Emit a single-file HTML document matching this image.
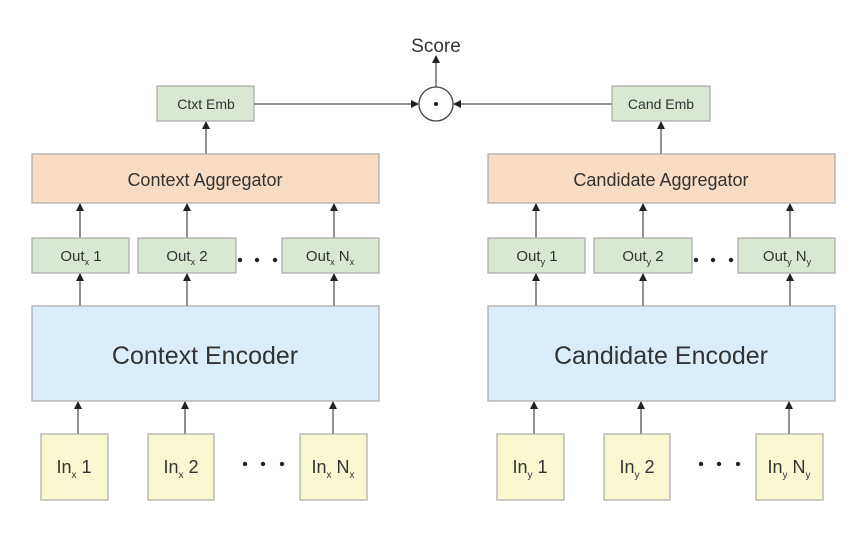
<!DOCTYPE html>
<html><head><style>body{margin:0;background:#fff}</style></head><body>
<svg width="856" height="528" xmlns="http://www.w3.org/2000/svg" font-family="Liberation Sans, sans-serif" fill="#333">
<defs><marker id="a" markerWidth="8" markerHeight="8" refX="7" refY="4" orient="auto" markerUnits="userSpaceOnUse"><path d="M0,0L8,4L0,8z" fill="#222"/></marker></defs>
<g stroke="#555" stroke-width="1.3" fill="none" marker-end="url(#a)">
<line x1="436" y1="87" x2="436" y2="56"/>
<line x1="254" y1="104" x2="418" y2="104"/>
<line x1="612" y1="104" x2="454" y2="104"/>
<line x1="206" y1="154" x2="206" y2="122"/>
<line x1="661" y1="154" x2="661" y2="122"/>
</g>
<g id="L">
<g stroke="#555" stroke-width="1.3" fill="none" marker-end="url(#a)">
<line x1="80" y1="238" x2="80" y2="204"/><line x1="187" y1="238" x2="187" y2="204"/><line x1="334" y1="238" x2="334" y2="204"/>
<line x1="80" y1="306" x2="80" y2="274"/><line x1="187" y1="306" x2="187" y2="274"/><line x1="334" y1="306" x2="334" y2="274"/>
<line x1="78" y1="434" x2="78" y2="402"/><line x1="185" y1="434" x2="185" y2="402"/><line x1="333" y1="434" x2="333" y2="402"/>
</g>
<g stroke="#aaa" stroke-width="1.2">
<rect x="32" y="154" width="347" height="49" fill="#f8dcc4"/>
<rect x="32" y="238" width="97" height="35" fill="#d8e8d2"/>
<rect x="138" y="238" width="98" height="35" fill="#d8e8d2"/>
<rect x="282" y="238" width="97" height="35" fill="#d8e8d2"/>
<rect x="32" y="306" width="347" height="95" fill="#dcedfa"/>
<rect x="41" y="434" width="67" height="66" fill="#f9f7d0"/>
<rect x="148" y="434" width="66" height="66" fill="#f9f7d0"/>
<rect x="300" y="434" width="67" height="66" fill="#f9f7d0"/>
</g>
<g fill="#222"><circle cx="240" cy="260" r="2.2"/><circle cx="257" cy="260" r="2.2"/><circle cx="275" cy="260" r="2.2"/>
<circle cx="245" cy="464" r="2.2"/><circle cx="263" cy="464" r="2.2"/><circle cx="282" cy="464" r="2.2"/></g>
</g>
<use href="#L" x="456"/>
<rect x="157" y="86" width="97" height="35" fill="#d8e8d2" stroke="#aaa" stroke-width="1.2"/>
<rect x="612" y="86" width="98" height="35" fill="#d8e8d2" stroke="#aaa" stroke-width="1.2"/>
<circle cx="436" cy="104" r="17" fill="#fff" stroke="#444" stroke-width="1.3"/>
<circle cx="436" cy="104" r="2" fill="#222"/>
<g text-anchor="middle" font-size="15">
<text x="436" y="52" font-size="19">Score</text>
<text x="206" y="109" font-size="14">Ctxt Emb</text>
<text x="661" y="109" font-size="14">Cand Emb</text>
<text x="205" y="186" font-size="18">Context Aggregator</text>
<text x="661" y="186" font-size="18">Candidate Aggregator</text>
<text x="205" y="364" font-size="25">Context Encoder</text>
<text x="661" y="364" font-size="25">Candidate Encoder</text>
<text x="81" y="261">Out<tspan font-size="9" dy="4">x</tspan><tspan dy="-4"> 1</tspan></text>
<text x="187" y="261">Out<tspan font-size="9" dy="4">x</tspan><tspan dy="-4"> 2</tspan></text>
<text x="330" y="261">Out<tspan font-size="9" dy="4">x</tspan><tspan dy="-4"> N</tspan><tspan font-size="9" dy="4">x</tspan></text>
<text x="537" y="261">Out<tspan font-size="9" dy="4">y</tspan><tspan dy="-4"> 1</tspan></text>
<text x="643" y="261">Out<tspan font-size="9" dy="4">y</tspan><tspan dy="-4"> 2</tspan></text>
<text x="787" y="261">Out<tspan font-size="9" dy="4">y</tspan><tspan dy="-4"> N</tspan><tspan font-size="9" dy="4">y</tspan></text>
<g font-size="18">
<text x="74" y="473">In<tspan font-size="10" dy="5">x</tspan><tspan dy="-5"> 1</tspan></text>
<text x="181" y="473">In<tspan font-size="10" dy="5">x</tspan><tspan dy="-5"> 2</tspan></text>
<text x="333" y="473">In<tspan font-size="10" dy="5">x</tspan><tspan dy="-5"> N</tspan><tspan font-size="10" dy="5">x</tspan></text>
<text x="530" y="473">In<tspan font-size="10" dy="5">y</tspan><tspan dy="-5"> 1</tspan></text>
<text x="637" y="473">In<tspan font-size="10" dy="5">y</tspan><tspan dy="-5"> 2</tspan></text>
<text x="789" y="473">In<tspan font-size="10" dy="5">y</tspan><tspan dy="-5"> N</tspan><tspan font-size="10" dy="5">y</tspan></text>
</g>
</g>
</svg>
</body></html>
